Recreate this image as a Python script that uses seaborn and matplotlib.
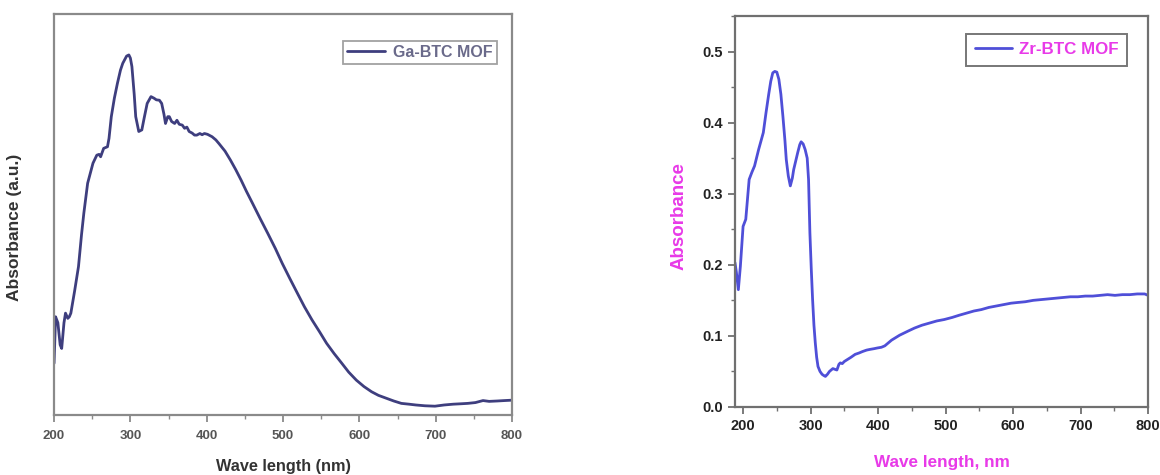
import matplotlib
matplotlib.use("Agg")
import matplotlib.pyplot as plt
import seaborn as sns
import pandas as pd
from matplotlib.ticker import MultipleLocator

# ---- data: Ga-BTC MOF (arbitrary units) ----
ga_wl = [200, 202, 205, 208, 210, 213, 215, 218, 220, 222, 227, 232, 236, 239, 244, 251, 256, 259, 261, 265,
         270, 272, 275, 279, 283, 287, 290, 295, 298, 300, 302, 305, 307, 311, 315, 318, 322, 327, 331, 334,
         338, 341, 344, 346, 349, 351, 354, 358, 361, 364, 368, 371, 374, 377, 381, 384, 387, 391, 394, 397,
         401, 404, 407, 412, 416, 424, 431, 438, 445, 452, 460, 470, 480, 490, 499, 509, 519, 528, 538, 548,
         557, 567, 577, 586, 596, 606, 616, 625, 635, 645, 655, 665, 674, 686, 699, 711, 723, 733, 742, 752,
         762, 770, 781, 790, 800]
ga_abs = [0.129, 0.245, 0.230, 0.175, 0.166, 0.230, 0.254, 0.241, 0.245, 0.254, 0.310, 0.370, 0.450, 0.503,
          0.578, 0.628, 0.648, 0.650, 0.644, 0.665, 0.669, 0.690, 0.744, 0.790, 0.827, 0.860, 0.877, 0.895,
          0.898, 0.890, 0.869, 0.800, 0.744, 0.707, 0.711, 0.740, 0.777, 0.794, 0.790, 0.786, 0.785, 0.777,
          0.750, 0.727, 0.744, 0.744, 0.732, 0.727, 0.735, 0.725, 0.723, 0.715, 0.718, 0.707, 0.703, 0.698,
          0.698, 0.702, 0.699, 0.702, 0.700, 0.697, 0.694, 0.686, 0.677, 0.658, 0.636, 0.612, 0.586, 0.558,
          0.528, 0.490, 0.453, 0.415, 0.378, 0.340, 0.303, 0.270, 0.237, 0.207, 0.179, 0.153, 0.129, 0.107,
          0.087, 0.071, 0.058, 0.049, 0.042, 0.035, 0.029, 0.027, 0.025, 0.023, 0.022, 0.025, 0.027, 0.028,
          0.029, 0.031, 0.036, 0.034, 0.035, 0.036, 0.037]

# ---- data: Zr-BTC MOF ----
zr_wl = [188, 190, 193, 196, 200, 204, 209, 213, 217, 223, 230, 234, 238, 241, 244, 247, 250, 253, 256, 259,
         262, 264, 267, 270, 273, 275, 278, 281, 284, 286, 289, 292, 295, 297, 299, 301, 303, 305, 307, 309,
         311, 314, 317, 320, 322, 325, 328, 333, 336, 339, 342, 344, 347, 350, 355, 360, 366, 372, 377, 383,
         388, 394, 399, 405, 410, 415, 420, 432, 445, 454, 465, 476, 487, 498, 510, 520, 531, 542, 553, 564,
         575, 586, 597, 607, 618, 630, 641, 652, 663, 674, 685, 696, 707, 718, 729, 740, 751, 762, 773, 784,
         795, 800]
zr_abs = [0.203, 0.190, 0.165, 0.198, 0.254, 0.264, 0.320, 0.330, 0.339, 0.362, 0.386, 0.414, 0.440, 0.458,
          0.470, 0.472, 0.471, 0.461, 0.440, 0.409, 0.375, 0.348, 0.325, 0.311, 0.322, 0.334, 0.346, 0.358,
          0.369, 0.373, 0.370, 0.362, 0.350, 0.320, 0.245, 0.195, 0.151, 0.115, 0.090, 0.070, 0.057, 0.050,
          0.046, 0.044, 0.043, 0.046, 0.050, 0.054, 0.053, 0.052, 0.060, 0.062, 0.061, 0.064, 0.067, 0.070,
          0.074, 0.076, 0.078, 0.080, 0.081, 0.082, 0.083, 0.084, 0.086, 0.090, 0.094, 0.101, 0.107, 0.111,
          0.115, 0.118, 0.121, 0.123, 0.126, 0.129, 0.132, 0.135, 0.137, 0.140, 0.142, 0.144, 0.146, 0.147,
          0.148, 0.150, 0.151, 0.152, 0.153, 0.154, 0.155, 0.155, 0.156, 0.156, 0.157, 0.158, 0.157, 0.158,
          0.158, 0.159, 0.159, 0.157]

x_ticks = [200, 300, 400, 500, 600, 700, 800]
zr_yticks = [0.0, 0.1, 0.2, 0.3, 0.4, 0.5]

sns.set_style("ticks")
plt.rcParams['font.family'] = ['Liberation Sans', 'DejaVu Sans']
plt.rcParams['font.weight'] = 'bold'

fig = plt.figure(figsize=(11.6, 4.75), dpi=100)
ax1 = fig.add_axes([0.0466, 0.1263, 0.3948, 0.8442])
ax2 = fig.add_axes([0.6336, 0.1432, 0.3561, 0.8232])

ga_df = pd.DataFrame({"wl": ga_wl, "abs": ga_abs})
zr_df = pd.DataFrame({"wl": zr_wl, "abs": zr_abs})

sns.lineplot(data=ga_df, x="wl", y="abs", ax=ax1, color="#3e3e7e", lw=2.0, label="Ga-BTC MOF", sort=False)
sns.lineplot(data=zr_df, x="wl", y="abs", ax=ax2, color="#4f4fd8", lw=2.0, label="Zr-BTC MOF", sort=False)

# left panel styling
ax1.set_xlim(200, 800)
ax1.set_ylim(0, 1.0)
ax1.set_xticks(x_ticks)
ax1.xaxis.set_minor_locator(MultipleLocator(50))
ax1.set_yticks([])
for s in ax1.spines.values():
    s.set_visible(True)
    s.set_color("#8a8a8a")
    s.set_linewidth(1.6)
ax1.tick_params(axis='x', which='major', direction='out', length=5, width=1.3, colors="#8a8a8a",
                labelcolor="#555555", labelsize=9.5, pad=6)
ax1.tick_params(axis='x', which='minor', direction='out', length=3, width=1.0, colors="#8a8a8a")
ax1.set_xlabel("Wave length (nm)", fontsize=11.7, fontweight='bold', color="#333333", labelpad=12)
ax1.set_ylabel("Absorbance (a.u.)", fontsize=12.5, fontweight='bold', color="#333333")
ax1.yaxis.set_label_coords(-0.070, 0.469)
leg1 = ax1.legend(loc='upper right', bbox_to_anchor=(0.967, 0.933), borderaxespad=0, fontsize=11.5,
                  frameon=True, fancybox=False, handlelength=2.4, handletextpad=0.5, borderpad=0.25)
leg1.get_frame().set_edgecolor("#8a8a8a")
leg1.get_frame().set_linewidth(1.3)
for t in leg1.get_texts():
    t.set_color("#6a6a8a")
    t.set_fontweight('bold')

# right panel styling
ax2.set_xlim(188, 800)
ax2.set_ylim(0, 0.55)
ax2.set_xticks(x_ticks)
ax2.set_yticks(zr_yticks)
ax2.set_yticklabels([f"{v:.1f}" for v in zr_yticks])
ax2.xaxis.set_minor_locator(MultipleLocator(50))
ax2.yaxis.set_minor_locator(MultipleLocator(0.05))
for s in ax2.spines.values():
    s.set_visible(True)
    s.set_color("#707070")
    s.set_linewidth(1.6)
ax2.tick_params(axis='both', which='major', direction='out', length=5, width=1.3, colors="#707070",
                labelcolor="#222222", labelsize=10.5)
ax2.tick_params(axis='both', which='minor', direction='out', length=3, width=1.0, colors="#707070")
ax2.set_xlabel("Wave length, nm", fontsize=12.3, fontweight='bold', color="#e83ae8", labelpad=16)
ax2.set_ylabel("Absorbance", fontsize=13.5, fontweight='bold', color="#e83ae8")
ax2.yaxis.set_label_coords(-0.116, 0.488)
leg2 = ax2.legend(loc='upper right', bbox_to_anchor=(0.949, 0.954), borderaxespad=0, fontsize=12.2,
                  frameon=True, fancybox=False, handlelength=2.2, handletextpad=0.4, borderpad=0.5)
leg2.get_frame().set_edgecolor("#555555")
leg2.get_frame().set_linewidth(1.4)
for t in leg2.get_texts():
    t.set_color("#e83ae8")
    t.set_fontweight('bold')

fig.savefig("out.png", dpi=100)
